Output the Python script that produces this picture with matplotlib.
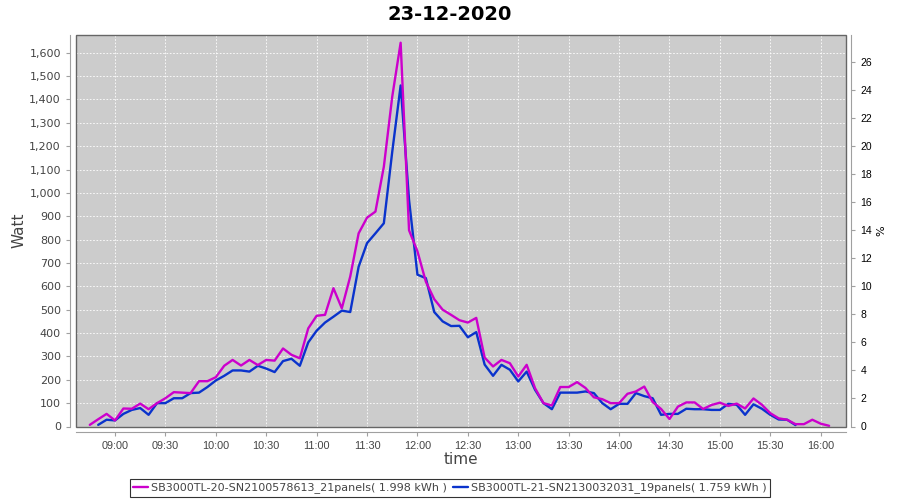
import matplotlib
matplotlib.use('Agg')
import matplotlib.pyplot as plt
import matplotlib.dates as mdates
from matplotlib.patches import Rectangle
from matplotlib.ticker import FuncFormatter, MultipleLocator
import numpy as np
import pandas as pd

nan = np.nan

# readings every 5 minutes, starting 08:45
start_time = '2020-12-23 08:45'

sb20_watt = [7, 31, 54, 26, 77, 76, 98, 74, 100, 121,
             147, 145, 143, 194, 194, 211, 260, 285, 261, 285,
             263, 285, 282, 334, 307, 292, 420, 474, 478, 592,
             506, 642, 827, 894, 920, 1112, 1412, 1643, 840, 750,
             620, 545, 500, 478, 455, 445, 465, 295, 257, 285,
             271, 214, 264, 164, 100, 90, 169, 169, 190, 165,
             125, 117, 100, 100, 140, 150, 171, 105, 75, 32,
             85, 103, 103, 75, 92, 102, 88, 98, 77, 120,
             93, 57, 35, 29, 10, 10, 29, 12, 3]

sb21_watt = [nan, 7, 29, 26, 54, 71, 79, 50, 100, 100,
             121, 121, 143, 145, 169, 197, 217, 240, 240, 235,
             260, 248, 233, 280, 290, 260, 360, 410, 445, 470,
             496, 490, 684, 785, 827, 870, 1176, 1460, 970, 650,
             635, 490, 450, 430, 431, 382, 404, 265, 217, 264,
             243, 193, 235, 157, 100, 74, 145, 145, 145, 150,
             143, 100, 74, 97, 97, 143, 130, 121, 50, 54,
             54, 76, 74, 74, 71, 71, 97, 93, 50, 95,
             76, 50, 30, 29, 6, nan, nan, nan, nan]

labels = ['SB3000TL-20-SN2100578613_21panels( 1.998 kWh )',
          'SB3000TL-21-SN2130032031_19panels( 1.759 kWh )']
colors = ['#cc00cc', '#0a33cc']

times = pd.date_range(start_time, periods=len(sb20_watt), freq='5min')

fig = plt.figure(figsize=(9, 5), dpi=100)
ax = fig.add_axes([0.0839, 0.147, 0.856, 0.783])
ax.set_facecolor('#cccccc')

# blue first so the magenta one lies on top
ax.plot(times, sb21_watt, color=colors[1], lw=1.7, label=labels[1], zorder=3,
        solid_joinstyle='round', solid_capstyle='round')
ax.plot(times, sb20_watt, color=colors[0], lw=1.7, label=labels[0], zorder=4,
        solid_joinstyle='round', solid_capstyle='round')

ax.set_xlim(pd.Timestamp('2020-12-23 08:36:30'), pd.Timestamp('2020-12-23 16:15'))
ax.set_ylim(0, 1676)
ax.yaxis.set_major_locator(MultipleLocator(100))
ax.yaxis.set_major_formatter(FuncFormatter(lambda v, p: '{:,.0f}'.format(v)))
ax.xaxis.set_major_locator(mdates.MinuteLocator(byminute=[0, 30]))
ax.xaxis.set_major_formatter(mdates.DateFormatter('%H:%M'))

ax.grid(True, color='white', ls=(0, (2, 2)), lw=0.6)
ax.set_axisbelow(True)

for s in ['top', 'right']:
    ax.spines[s].set_visible(False)
for s in ['left', 'bottom']:
    ax.spines[s].set_position(('outward', 4))
    ax.spines[s].set_color('#a0a0a0')
ax.tick_params(axis='both', colors='#a0a0a0', length=3, width=0.8, labelcolor='#444444')
ax.tick_params(axis='y', labelsize=8)
for t in ax.get_xticklabels():
    t.set_fontfamily('Liberation Sans')
    t.set_fontsize(7.8)

ax.add_patch(Rectangle((0, 0), 1, 1, transform=ax.transAxes, fill=False,
                       edgecolor='#666666', lw=1.0, zorder=5, clip_on=False))

ax.set_ylabel('Watt', fontsize=11, color='#444444', labelpad=2)
ax.set_xlabel('time', fontsize=11, color='#444444', labelpad=1)

ax2 = ax.twinx()
ax2.set_ylim(0, 27.95)
ax2.yaxis.set_major_locator(MultipleLocator(2))
for s in ['top', 'left', 'bottom']:
    ax2.spines[s].set_visible(False)
ax2.spines['right'].set_position(('outward', 4))
ax2.spines['right'].set_color('#a0a0a0')
ax2.tick_params(axis='y', colors='#a0a0a0', length=3, width=0.8, labelcolor='black', labelsize=7.5)
for t in ax2.get_yticklabels():
    t.set_fontfamily('Liberation Sans')
ax2.set_ylabel('%', fontsize=8, color='black', labelpad=3)

fig.text(0.5, 0.972, '23-12-2020', ha='center', va='center', fontsize=14, fontweight='bold')

h, l = ax.get_legend_handles_labels()
leg = fig.legend(h[::-1], l[::-1], loc='center', bbox_to_anchor=(0.5, 0.024), ncol=2,
                 fontsize=8, frameon=True, fancybox=False, handlelength=1.3,
                 handletextpad=0.3, columnspacing=0.6, borderpad=0.3)
leg.get_frame().set_edgecolor('black')
leg.get_frame().set_linewidth(0.8)
for t in leg.get_texts():
    t.set_color('#444444')

fig.savefig('out.png', dpi=100)
